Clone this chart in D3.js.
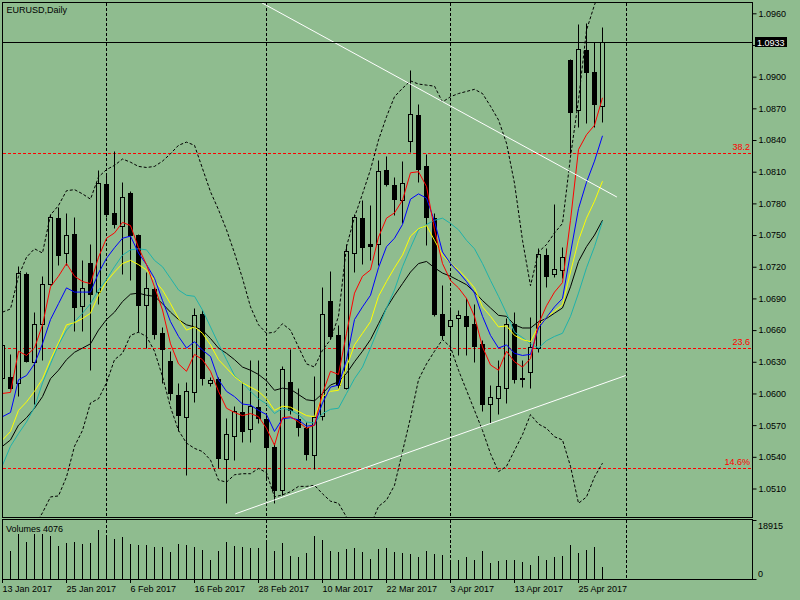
<!DOCTYPE html>
<html>
<head>
<meta charset="utf-8">
<script src="https://cdnjs.cloudflare.com/ajax/libs/d3/7.8.5/d3.min.js"></script>
<style>
    body { margin: 0; background: #8fbc8f; }
    text { font-family: "Liberation Sans", Arial, sans-serif; font-size: 9px; }
</style>
</head>
<body>
<div id="chart"></div>
<script>
// EURUSD daily, 13 Jan 2017 .. 28 Apr 2017 (one entry per bar)
const opens = [1.0615, 1.0616, 1.0610, 1.0713, 1.0630, 1.0666, 1.0704, 1.0766, 1.0733, 1.0751,
    1.0683, 1.0724, 1.0696, 1.0798, 1.0771, 1.0759, 1.0790, 1.0750, 1.0684, 1.0699,
    1.0657, 1.0631, 1.0599, 1.0578, 1.0601, 1.0675, 1.0610, 1.0614, 1.0538, 1.0560,
    1.0582, 1.0566, 1.0587, 1.0576, 1.0549, 1.0509, 1.0611, 1.0576, 1.0567, 1.0542,
    1.0579, 1.0688, 1.0655, 1.0605, 1.0733, 1.0766, 1.0742, 1.0742, 1.0812, 1.0797,
    1.0783, 1.0839, 1.0864, 1.0815, 1.0766, 1.0675, 1.0664, 1.0671, 1.0673, 1.0666,
    1.0647, 1.0590, 1.0596, 1.0605, 1.0666, 1.0615, 1.0620, 1.0643, 1.0731, 1.0713,
    1.0717, 1.0916, 1.0868, 1.0925, 1.0904, 1.0872];
const highs = [1.0653, 1.0637, 1.0721, 1.0715, 1.0677, 1.0711, 1.0770, 1.0777, 1.0771, 1.0767,
    1.0726, 1.0742, 1.0812, 1.0807, 1.0830, 1.0800, 1.0792, 1.0751, 1.0715, 1.0701,
    1.0663, 1.0640, 1.0610, 1.0611, 1.0681, 1.0679, 1.0616, 1.0616, 1.0577, 1.0588,
    1.0611, 1.0632, 1.0632, 1.0581, 1.0553, 1.0626, 1.0642, 1.0605, 1.0573, 1.0617,
    1.0701, 1.0716, 1.0665, 1.0742, 1.0770, 1.0783, 1.0778, 1.0821, 1.0825, 1.0805,
    1.0820, 1.0906, 1.0874, 1.0827, 1.0771, 1.0703, 1.0682, 1.0679, 1.0690, 1.0685,
    1.0651, 1.0608, 1.0632, 1.0671, 1.0677, 1.0632, 1.0672, 1.0738, 1.0738, 1.0779,
    1.0739, 1.0917, 1.0950, 1.0951, 1.0933, 1.0947];
const lows = [1.0608, 1.0604, 1.0598, 1.0630, 1.0590, 1.0632, 1.0703, 1.0722, 1.0722, 1.0659,
    1.0659, 1.0622, 1.0685, 1.0767, 1.0757, 1.0713, 1.0707, 1.0658, 1.0643, 1.0652,
    1.0610, 1.0594, 1.0564, 1.0523, 1.0592, 1.0608, 1.0607, 1.0529, 1.0496, 1.0537,
    1.0554, 1.0554, 1.0572, 1.0520, 1.0496, 1.0504, 1.0581, 1.0560, 1.0537, 1.0528,
    1.0575, 1.0652, 1.0605, 1.0604, 1.0715, 1.0723, 1.0726, 1.0722, 1.0796, 1.0769,
    1.0761, 1.0829, 1.0800, 1.0741, 1.0673, 1.0652, 1.0641, 1.0636, 1.0636, 1.0630,
    1.0583, 1.0572, 1.0581, 1.0591, 1.0610, 1.0606, 1.0605, 1.0639, 1.0701, 1.0710,
    1.0709, 1.0828, 1.0852, 1.0856, 1.0852, 1.0857];
const closes = [1.0646, 1.0605, 1.0714, 1.0631, 1.0666, 1.0704, 1.0767, 1.0731, 1.0750, 1.0682,
    1.0700, 1.0694, 1.0799, 1.0770, 1.0760, 1.0786, 1.0750, 1.0684, 1.0700, 1.0656,
    1.0642, 1.0600, 1.0580, 1.0602, 1.0674, 1.0615, 1.0613, 1.0539, 1.0562, 1.0583,
    1.0564, 1.0588, 1.0577, 1.0549, 1.0509, 1.0623, 1.0584, 1.0568, 1.0543, 1.0578,
    1.0675, 1.0654, 1.0608, 1.0735, 1.0767, 1.0739, 1.0740, 1.0811, 1.0798, 1.0784,
    1.0799, 1.0865, 1.0813, 1.0767, 1.0675, 1.0655, 1.0670, 1.0674, 1.0664, 1.0645,
    1.0590, 1.0597, 1.0607, 1.0666, 1.0614, 1.0614, 1.0644, 1.0732, 1.0711, 1.0718,
    1.0729, 1.0867, 1.0926, 1.0904, 1.0874, 1.0933];
const volumes = [9730, 9080, 14600, 12000, 14600, 14600, 13950, 10700, 11680, 12000,
    11350, 11680, 15900, 13950, 12980, 13620, 11350, 11030, 11030, 10380,
    10380, 8760, 11350, 11030, 10380, 9410, 6160, 9080, 12000, 10700,
    10380, 10060, 10060, 12000, 9080, 11680, 7460, 7140, 8430, 13950,
    12650, 9080, 8760, 9730, 10060, 8760, 6490, 9730, 10060, 8760,
    8430, 8110, 7140, 9080, 8110, 7790, 6160, 6160, 7140, 6160,
    9080, 5190, 5840, 6160, 6160, 5510, 4540, 7460, 6160, 7140,
    7460, 11030, 8430, 9410, 10380, 4076];

// indicator lines
const maRed = [1.0600, 1.0601, 1.0640, 1.0636, 1.0643, 1.0665, 1.0701, 1.0711, 1.0723, 1.0711,
    1.0706, 1.0704, 1.0729, 1.0747, 1.0752, 1.0762, 1.0759, 1.0738, 1.0722, 1.0701,
    1.0679, 1.0647, 1.0628, 1.0621, 1.0637, 1.0632, 1.0621, 1.0602, 1.0586, 1.0582,
    1.0579, 1.0581, 1.0578, 1.0567, 1.0551, 1.0577, 1.0578, 1.0573, 1.0567, 1.0570,
    1.0600, 1.0621, 1.0618, 1.0657, 1.0695, 1.0711, 1.0717, 1.0748, 1.0766, 1.0771,
    1.0783, 1.0809, 1.0810, 1.0796, 1.0755, 1.0723, 1.0707, 1.0700, 1.0690, 1.0673,
    1.0644, 1.0627, 1.0622, 1.0640, 1.0630, 1.0625, 1.0633, 1.0666, 1.0683, 1.0696,
    1.0705, 1.0764, 1.0831, 1.0845, 1.0854, 1.0880];
const maBlue = [1.0578, 1.0582, 1.0613, 1.0617, 1.0628, 1.0647, 1.0670, 1.0685, 1.0700, 1.0696,
    1.0696, 1.0696, 1.0714, 1.0728, 1.0738, 1.0747, 1.0749, 1.0733, 1.0722, 1.0709,
    1.0688, 1.0668, 1.0654, 1.0643, 1.0649, 1.0641, 1.0635, 1.0613, 1.0602, 1.0597,
    1.0590, 1.0589, 1.0584, 1.0580, 1.0564, 1.0576, 1.0577, 1.0575, 1.0569, 1.0570,
    1.0591, 1.0606, 1.0608, 1.0632, 1.0670, 1.0682, 1.0693, 1.0719, 1.0739, 1.0747,
    1.0760, 1.0784, 1.0789, 1.0785, 1.0763, 1.0734, 1.0723, 1.0715, 1.0706, 1.0695,
    1.0673, 1.0655, 1.0643, 1.0646, 1.0638, 1.0636, 1.0637, 1.0662, 1.0672, 1.0682,
    1.0690, 1.0733, 1.0775, 1.0800, 1.0820, 1.0844];
const maYellow = [1.0556, 1.0564, 1.0584, 1.0592, 1.0602, 1.0614, 1.0632, 1.0648, 1.0665, 1.0667,
    1.0671, 1.0676, 1.0693, 1.0706, 1.0715, 1.0723, 1.0726, 1.0722, 1.0717, 1.0707,
    1.0698, 1.0685, 1.0671, 1.0660, 1.0663, 1.0657, 1.0646, 1.0632, 1.0624, 1.0616,
    1.0610, 1.0606, 1.0602, 1.0595, 1.0584, 1.0588, 1.0587, 1.0583, 1.0579, 1.0578,
    1.0597, 1.0602, 1.0603, 1.0625, 1.0646, 1.0657, 1.0668, 1.0692, 1.0706, 1.0719,
    1.0731, 1.0749, 1.0756, 1.0759, 1.0745, 1.0731, 1.0723, 1.0717, 1.0709, 1.0700,
    1.0682, 1.0673, 1.0663, 1.0664, 1.0655, 1.0651, 1.0649, 1.0664, 1.0672, 1.0678,
    1.0684, 1.0715, 1.0745, 1.0766, 1.0782, 1.0801];
const maCyan = [1.0532, 1.0550, 1.0562, 1.0573, 1.0587, 1.0610, 1.0628, 1.0646, 1.0660, 1.0668,
    1.0676, 1.0685, 1.0698, 1.0708, 1.0720, 1.0731, 1.0736, 1.0737, 1.0736, 1.0726,
    1.0720, 1.0709, 1.0698, 1.0693, 1.0692, 1.0679, 1.0663, 1.0647, 1.0632, 1.0617,
    1.0610, 1.0602, 1.0595, 1.0590, 1.0581, 1.0586, 1.0584, 1.0580, 1.0573, 1.0572,
    1.0581, 1.0585, 1.0586, 1.0600, 1.0614, 1.0625, 1.0643, 1.0662, 1.0681, 1.0698,
    1.0720, 1.0738, 1.0755, 1.0760, 1.0764, 1.0766, 1.0761, 1.0755, 1.0745, 1.0737,
    1.0723, 1.0707, 1.0692, 1.0676, 1.0658, 1.0653, 1.0647, 1.0643, 1.0650, 1.0654,
    1.0657, 1.0673, 1.0695, 1.0719, 1.0739, 1.0763];
const maBlack = [1.0550, 1.0556, 1.0570, 1.0577, 1.0586, 1.0597, 1.0614, 1.0622, 1.0632, 1.0639,
    1.0643, 1.0647, 1.0660, 1.0670, 1.0677, 1.0687, 1.0694, 1.0695, 1.0693, 1.0692,
    1.0685, 1.0677, 1.0670, 1.0665, 1.0663, 1.0660, 1.0652, 1.0643, 1.0638, 1.0632,
    1.0625, 1.0622, 1.0618, 1.0612, 1.0603, 1.0605, 1.0604, 1.0599, 1.0594, 1.0593,
    1.0600, 1.0608, 1.0611, 1.0619, 1.0630, 1.0640, 1.0651, 1.0666, 1.0681, 1.0693,
    1.0704, 1.0715, 1.0723, 1.0725, 1.0719, 1.0714, 1.0711, 1.0707, 1.0703, 1.0696,
    1.0688, 1.0681, 1.0674, 1.0673, 1.0665, 1.0662, 1.0662, 1.0668, 1.0671, 1.0676,
    1.0681, 1.0701, 1.0725, 1.0739, 1.0750, 1.0764];
const bandUpper = [1.0677, 1.0680, 1.0711, 1.0729, 1.0737, 1.0733, 1.0769, 1.0778, 1.0792, 1.0793,
    1.0789, 1.0784, 1.0805, 1.0812, 1.0816, 1.0822, 1.0819, 1.0815, 1.0814, 1.0815,
    1.0820, 1.0827, 1.0835, 1.0838, 1.0835, 1.0813, 1.0791, 1.0774, 1.0755, 1.0733,
    1.0709, 1.0682, 1.0665, 1.0657, 1.0658, 1.0666, 1.0660, 1.0644, 1.0628, 1.0625,
    1.0641, 1.0651, 1.0673, 1.0739, 1.0767, 1.0789, 1.0812, 1.0840, 1.0862, 1.0881,
    1.0889, 1.0896, 1.0893, 1.0892, 1.0891, 1.0876, 1.0881, 1.0884, 1.0886, 1.0888,
    1.0884, 1.0872, 1.0859, 1.0837, 1.0799, 1.0745, 1.0702, 1.0734, 1.0741, 1.0752,
    1.0761, 1.0824, 1.0878, 1.0944, 1.0968, 1.0987];
const bandLower = [1.0442, 1.0447, 1.0457, 1.0466, 1.0475, 1.0487, 1.0502, 1.0503, 1.0521, 1.0550,
    1.0565, 1.0591, 1.0595, 1.0610, 1.0632, 1.0638, 1.0655, 1.0658, 1.0654, 1.0640,
    1.0616, 1.0587, 1.0565, 1.0553, 1.0548, 1.0545, 1.0537, 1.0518, 1.0516, 1.0523,
    1.0524, 1.0524, 1.0529, 1.0525, 1.0502, 1.0504, 1.0507, 1.0512, 1.0512, 1.0513,
    1.0505, 1.0498, 1.0496, 1.0483, 1.0473, 1.0469, 1.0475, 1.0493, 1.0499, 1.0513,
    1.0545, 1.0577, 1.0613, 1.0628, 1.0640, 1.0651, 1.0644, 1.0622, 1.0603, 1.0584,
    1.0565, 1.0543, 1.0526, 1.0531, 1.0546, 1.0561, 1.0580, 1.0571, 1.0567, 1.0559,
    1.0556, 1.0531, 1.0496, 1.0502, 1.0521, 1.0534];

// axis and object data
const priceTicks = [1.0510, 1.0540, 1.0570, 1.0600, 1.0630, 1.0660, 1.0690, 1.0720,
    1.0750, 1.0780, 1.0810, 1.0840, 1.0870, 1.0900, 1.0930, 1.0960];
const dateLabels = ["13 Jan 2017", "25 Jan 2017", "6 Feb 2017", "16 Feb 2017", "28 Feb 2017",
    "10 Mar 2017", "22 Mar 2017", "3 Apr 2017", "13 Apr 2017", "25 Apr 2017"];
const dateLabelBars = [0, 8, 16, 24, 32, 40, 48, 56, 64, 72];
const monthStartBars = [13, 33, 56, 78];
const fibLabels = ["38.2", "23.6", "14.6%"];
const fibPrices = [1.0828, 1.0643, 1.0529];
const trendUpper = [[32.4, 1.0970], [76.8, 1.0786]];
const trendLower = [[29.1, 1.0486], [77.9, 1.0617]];
const volumeMax = 18915;

const bg = "#8fbc8f";
const svg = d3.select("#chart").append("svg")
    .attr("width", 800)
    .attr("height", 600)
    .style("display", "block")
    .style("background", bg);

const x = d3.scaleLinear().domain([0, 93]).range([2.5, 2.5 + 8 * 93]);
const y = d3.scaleLinear().domain([1.0510, 1.0960]).range([488.5, 13.3]);
const yv = d3.scaleLinear().domain([0, volumeMax]).range([579.5, 520.7]);
const px = v => Math.round(v) + 0.5;

svg.append("clipPath").attr("id", "mainClip")
    .append("rect").attr("x", 3).attr("y", 3).attr("width", 749).attr("height", 514);
svg.append("clipPath").attr("id", "volClip")
    .append("rect").attr("x", 3).attr("y", 520).attr("width", 749).attr("height", 59);

const main = svg.append("g").attr("clip-path", "url(#mainClip)");
const volG = svg.append("g").attr("clip-path", "url(#volClip)");

// month separators (dashed)
monthStartBars.forEach(b => {
    main.append("line").attr("x1", x(b)).attr("x2", x(b)).attr("y1", 3).attr("y2", 517)
        .attr("stroke", "#000").attr("stroke-dasharray", "3,2");
    volG.append("line").attr("x1", x(b)).attr("x2", x(b)).attr("y1", 520).attr("y2", 579)
        .attr("stroke", "#000").attr("stroke-dasharray", "3,2");
});

// fibonacci levels
fibPrices.forEach((p, k) => {
    main.append("line").attr("x1", 3).attr("x2", 752).attr("y1", px(y(p))).attr("y2", px(y(p)))
        .attr("stroke", "#ff0000").attr("stroke-dasharray", "3,2");
    svg.append("text").attr("x", 750).attr("y", Math.round(y(p)) - 3)
        .attr("text-anchor", "end").attr("fill", "#ff0000").text(fibLabels[k]);
});

// candles
const idx = d3.range(closes.length);
const candles = main.selectAll(".candle").data(idx).enter().append("g").attr("class", "candle");
candles.append("line")
    .attr("x1", i => x(i)).attr("x2", i => x(i))
    .attr("y1", i => px(y(highs[i]))).attr("y2", i => px(y(lows[i])))
    .attr("stroke", "#000");
candles.append("rect")
    .attr("x", i => x(i) - 2)
    .attr("width", 4)
    .attr("y", i => px(y(Math.max(opens[i], closes[i]))))
    .attr("height", i => Math.max(0.01, Math.round(y(Math.min(opens[i], closes[i]))) - Math.round(y(Math.max(opens[i], closes[i])))))
    .attr("fill", i => closes[i] >= opens[i] ? bg : "#000")
    .attr("stroke", "#000");

// indicators
const line = d3.line().x((d, i) => x(i)).y(d => y(d));
const drawLine = (data, color, dash) => {
    main.append("path").datum(data)
        .attr("fill", "none")
        .attr("stroke", color)
        .attr("stroke-width", 1)
        .attr("stroke-dasharray", dash || null)
        .attr("d", line);
};
drawLine(bandUpper, "#000", "3,2");
drawLine(bandLower, "#000", "3,2");
drawLine(maBlack, "#000");
drawLine(maCyan, "#20b2aa");
drawLine(maYellow, "#ffff00");
drawLine(maBlue, "#0000ff");
drawLine(maRed, "#ff0000");

// trend lines
[trendUpper, trendLower].forEach(t => {
    main.append("line")
        .attr("x1", x(t[0][0])).attr("y1", y(t[0][1]))
        .attr("x2", x(t[1][0])).attr("y2", y(t[1][1]))
        .attr("stroke", "#fff").attr("stroke-width", 1);
});

// bid line
const last = closes[closes.length - 1];
main.append("line").attr("x1", 3).attr("x2", 752).attr("y1", px(y(last))).attr("y2", px(y(last)))
    .attr("stroke", "#000");

// volumes
volG.selectAll(".vol").data(idx).enter().append("line")
    .attr("class", "vol")
    .attr("x1", i => x(i)).attr("x2", i => x(i))
    .attr("y1", i => Math.round(yv(volumes[i]))).attr("y2", 579.5)
    .attr("stroke", "#000");

// panel frames
svg.append("rect").attr("x", 2.5).attr("y", 2.5).attr("width", 750).attr("height", 515)
    .attr("fill", "none").attr("stroke", "#000");
svg.append("rect").attr("x", 2.5).attr("y", 519.5).attr("width", 750).attr("height", 60)
    .attr("fill", "none").attr("stroke", "#000");

// price axis (the label under the current-price marker is hidden, as on the terminal)
const hiddenByMarker = v => Math.abs(y(v) - y(last)) < 8;
const yAxis = svg.append("g").attr("transform", "translate(752.5,0)")
    .call(d3.axisRight(y).tickValues(priceTicks).tickSize(4).tickPadding(2)
        .tickFormat(v => hiddenByMarker(v) ? "" : d3.format(".4f")(v)));
yAxis.select(".domain").remove();
yAxis.selectAll("text").attr("font-size", null).attr("font-family", null).attr("fill", "#000");

// current price marker
svg.append("rect").attr("x", 755).attr("y", Math.round(y(last)) - 5).attr("width", 32).attr("height", 10)
    .attr("fill", "#000");
svg.append("text").attr("x", 757).attr("y", Math.round(y(last)) + 3.5)
    .attr("fill", "#fff").text(d3.format(".4f")(last));

// volume axis
[[volumeMax, 528.5], [0, 577]].forEach(([v, ty]) => {
    svg.append("line").attr("x1", 752.5).attr("x2", 756.5).attr("y1", px(yv(v)) - 1).attr("y2", px(yv(v)) - 1)
        .attr("stroke", "#000");
    svg.append("text").attr("x", 758).attr("y", ty).text(v);
});

// date axis
dateLabelBars.forEach((b, k) => {
    svg.append("line").attr("x1", x(b)).attr("x2", x(b)).attr("y1", 580).attr("y2", 583)
        .attr("stroke", "#000");
    svg.append("text").attr("x", x(b)).attr("y", 592).text(dateLabels[k]);
});

// titles
svg.append("text").attr("x", 6.5).attr("y", 13).text("EURUSD,Daily");
svg.append("text").attr("x", 6).attr("y", 532).text("Volumes " + volumes[volumes.length - 1]);
</script>
</body>
</html>
